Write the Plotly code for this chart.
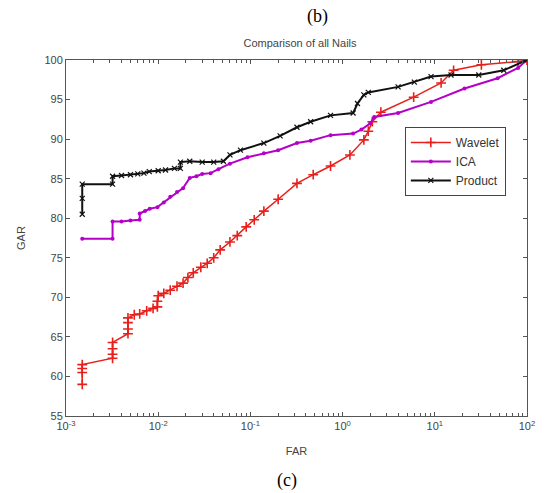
import plotly.graph_objects as go

# Wavelet (red)
wav_far = [0.0015, 0.0015, 0.0015, 0.0015, 0.0032, 0.0032, 0.0032, 0.0032,
           0.0047, 0.0047, 0.0047, 0.0047, 0.0055, 0.0063, 0.0075, 0.0088,
           0.0098, 0.0098, 0.010, 0.0115, 0.0135, 0.016, 0.0186, 0.021,
           0.024, 0.029, 0.034, 0.040, 0.047, 0.060, 0.072, 0.090, 0.11,
           0.14, 0.20, 0.32, 0.48, 0.74, 1.2, 1.7, 1.9, 2.1, 2.6, 5.9,
           11.7, 16, 32, 80, 100]
wav_gar = [59.0, 60.5, 61.0, 61.5, 62.3, 62.8, 63.5, 64.3,
           65.4, 66.0, 66.8, 67.4, 67.8, 67.9, 68.3, 68.6,
           68.8, 69.5, 70.2, 70.5, 70.9, 71.4, 71.8, 72.5,
           73.1, 73.8, 74.3, 75.0, 76.0, 77.0, 77.8, 78.9, 79.8,
           80.9, 82.4, 84.4, 85.5, 86.6, 88.0, 89.9, 91.0, 92.2, 93.4, 95.3,
           97.1, 98.7, 99.4, 99.8, 100.0]

# ICA (purple)
ica_far = [0.0015, 0.0032, 0.0032, 0.0040, 0.0050, 0.0063, 0.0063, 0.0072,
           0.0081, 0.0098, 0.0115, 0.0135, 0.016, 0.0186, 0.022, 0.026,
           0.030, 0.037, 0.045, 0.060, 0.093, 0.14, 0.20, 0.32, 0.45,
           0.74, 1.3, 1.6, 2.0, 2.2, 4.0, 9.1, 21, 48, 80, 100]
ica_gar = [77.4, 77.4, 79.6, 79.6, 79.7, 79.8, 80.6, 80.9,
           81.2, 81.4, 82.0, 82.7, 83.3, 83.8, 85.1, 85.3,
           85.6, 85.7, 86.2, 86.9, 87.7, 88.2, 88.6, 89.5, 89.8,
           90.5, 90.7, 91.2, 92.0, 92.8, 93.3, 94.7, 96.4, 97.7, 99.0, 100.0]

# Product (black)
prod_far = [0.0015, 0.0015, 0.0015, 0.0032, 0.0032, 0.0040, 0.0050, 0.0060,
            0.0070, 0.0080, 0.010, 0.012, 0.015, 0.0174, 0.0174, 0.022,
            0.030, 0.040, 0.051, 0.060, 0.078, 0.14, 0.21, 0.32, 0.45,
            0.74, 1.3, 1.45, 1.7, 1.9, 4.0, 6.0, 9.1, 15, 30, 56, 100]
prod_gar = [80.5, 82.5, 84.3, 84.3, 85.3, 85.4, 85.5, 85.6,
            85.7, 85.9, 86.0, 86.1, 86.3, 86.3, 87.1, 87.2,
            87.1, 87.1, 87.2, 88.0, 88.6, 89.5, 90.4, 91.5, 92.2,
            93.0, 93.3, 94.5, 95.6, 95.9, 96.6, 97.2, 97.9, 98.1, 98.1, 98.7, 100.0]

x_tickvals = [0.001, 0.01, 0.1, 1, 10, 100]
x_ticktext = ["10<sup>-3</sup>", "10<sup>-2</sup>", "10<sup>-1</sup>",
              "10<sup>0</sup>", "10<sup>1</sup>", "10<sup>2</sup>"]
y_tickvals = [55, 60, 65, 70, 75, 80, 85, 90, 95, 100]

fig = go.Figure()
fig.add_trace(go.Scatter(
    x=wav_far, y=wav_gar, name="Wavelet", mode="lines+markers",
    line=dict(color="#e8201c", width=1.5),
    marker=dict(symbol="cross-thin", size=7, line=dict(color="#e8201c", width=1.6))))
fig.add_trace(go.Scatter(
    x=ica_far, y=ica_gar, name="ICA", mode="lines+markers",
    line=dict(color="#b400c8", width=2),
    marker=dict(symbol="circle", size=4, color="#b400c8")))
fig.add_trace(go.Scatter(
    x=prod_far, y=prod_gar, name="Product", mode="lines+markers",
    line=dict(color="#111111", width=2),
    marker=dict(symbol="x-thin", size=5, line=dict(color="#111111", width=1.2))))

axis_common = dict(
    showline=True, mirror="ticks", linecolor="#555555", linewidth=1,
    ticks="inside", ticklen=4, tickcolor="#555555", showgrid=False,
    zeroline=False, automargin=False,
    tickfont=dict(family="Arial", size=11, color="#444444"),
)
fig.update_xaxes(
    type="log", range=[-3, 2], tickvals=x_tickvals, ticktext=x_ticktext,
    minor=dict(ticks="inside", ticklen=3, tickcolor="#555555", showgrid=False,
               dtick="D1"),
    title=dict(text="FAR", font=dict(family="Arial", size=11, color="#444444"), standoff=16),
    **axis_common)
fig.update_yaxes(
    range=[55, 100], tickvals=y_tickvals,
    title=dict(text="GAR", font=dict(family="Arial", size=11, color="#444444"), standoff=16),
    **axis_common)

# page body has an 8px default margin, so the figure is 8px smaller
fig.update_layout(
    width=537, height=485,
    margin=dict(l=58, r=18, t=52, b=77),
    paper_bgcolor="white", plot_bgcolor="white",
    title=dict(text="Comparison of all Nails", x=(300 - 8) / 537,
               xanchor="center", y=1 - 35 / 485, yanchor="middle",
               font=dict(family="Arial", size=11, color="#444444")),
    legend=dict(x=0.735, y=0.812, xanchor="left", yanchor="top",
                bgcolor="white", bordercolor="#444444", borderwidth=1,
                font=dict(family="Arial", size=12, color="#333333"),
                tracegroupgap=0, itemwidth=40),
    showlegend=True,
    annotations=[
        dict(text="(b)", xref="paper", yref="paper", x=0.545, y=1 + 43 / 356,
             xanchor="center", yanchor="middle", showarrow=False,
             font=dict(family="Liberation Serif", size=18, color="black")),
        dict(text="(c)", xref="paper", yref="paper", x=0.479, y=-64 / 356,
             xanchor="center", yanchor="middle", showarrow=False,
             font=dict(family="Liberation Serif", size=18, color="black")),
    ],
)

fig.write_html("out.html")
